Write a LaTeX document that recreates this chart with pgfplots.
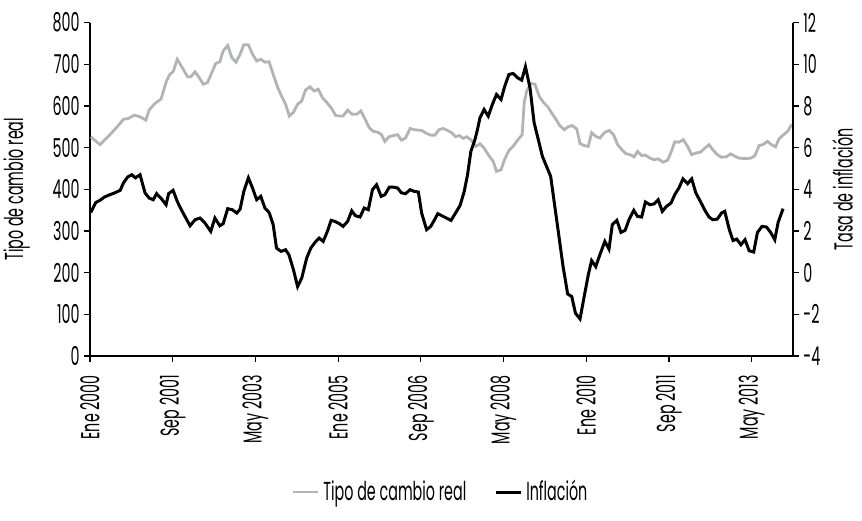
\documentclass[border=0pt]{standalone}
\usepackage{fontspec}
\setmainfont{Poppins}[FakeStretch=0.55]
\usepackage{pgfplots}
\pgfplotsset{compat=1.18}
\definecolor{tcgray}{RGB}{178,180,180}
\newcommand{\chartfont}{\fontsize{13}{15}\selectfont}
\begin{document}
\begin{tikzpicture}
\path[use as bounding box] (-45pt,-82pt) rectangle (386pt,178pt);
\begin{axis}[
  name=ax1, at={(0,0)}, anchor=south west,
  scale only axis, width=351.5pt, height=166.7pt,
  xmin=0, xmax=170, ymin=0, ymax=800,
  axis x line*=bottom, axis y line*=left,
  axis line style={line width=0.6pt, black},
  tick align=outside, major tick length=3pt,
  tick style={line width=0.6pt, black},
  xtick={0,20,...,160},
  xticklabels={Ene 2000, Sep 2001, May 2003, Ene 2005, Sep 2006, May 2008, Ene 2010, Sep 2011, May 2013},
  xticklabel style={rotate=90, anchor=east, font=\chartfont},
  xticklabel shift=3pt,
  ytick={0,100,...,800},
  yticklabel style={font=\chartfont, inner sep=2pt},
  /pgf/number format/assume math mode=true,
  ylabel={Tipo de cambio real},
  ylabel style={font=\chartfont, at={(axis description cs:-0.0754,0.5)}, anchor=south},
]
\addplot[tcgray, line width=1.4pt] coordinates {
(0.2,526) (2.4,507) (4.8,531) (6.4,548) (8.1,568) (9.3,570) (10.7,578) (12.1,574) (13.5,566) (14.3,590)
(15.5,604) (17.2,617) (18.5,660) (19.3,676) (20.1,682) (21.1,712) (22.3,692) (23.6,670) (24.4,670) (25.4,682)
(26.4,668) (27.4,652) (28.4,656) (29.8,688) (30.4,702) (31.4,706) (32.2,732) (33.3,745) (34.3,716) (35.3,705)
(36.3,724) (37.2,747) (38.3,747) (39.3,724) (40.3,708) (41.3,712) (42.3,705) (43.3,706) (44.3,676) (45.4,644)
(46.3,624) (47.3,604) (48.2,576) (49.2,585) (50.2,604) (51.2,612) (52.1,638) (53.2,646) (54.2,636) (55.2,640)
(56.2,620) (57.2,609) (58.3,596) (59.4,577) (60.4,576) (61.2,576) (62.3,590) (63.4,580) (64.5,580) (65.5,588)
(66.5,569) (67.5,548) (68.5,539) (69.6,537) (70.5,531) (71.3,515) (72.3,526) (73.3,529) (74.4,531) (75.3,518)
(76.3,523) (77.4,546) (78.4,543) (79.4,542) (80.3,541) (81.4,534) (82.4,530) (83.4,530) (84.4,543) (85.4,546)
(86.5,541) (87.4,536) (88.4,526) (89.3,529) (90.3,522) (91.1,526) (92.1,519) (93.3,503) (94.3,509) (95.3,499)
(96.3,483) (97.5,467) (98.3,443) (99.4,447) (100.3,473) (101.3,493) (102.3,503) (103.4,518) (104.5,531) (105.0,608)
(105.6,636) (106.6,654) (107.6,652) (108.6,624) (109.6,609) (110.7,598) (111.6,584) (112.6,569) (113.6,553) (114.7,543)
(115.6,550) (116.6,553) (117.7,545) (118.5,510) (119.5,505) (120.5,503) (121.3,536) (122.3,527) (123.3,523) (124.5,537)
(125.6,541) (126.6,531) (127.6,507) (128.6,495) (129.5,486) (130.6,483) (131.6,478) (132.4,491) (133.4,481) (134.3,482)
(135.4,475) (136.4,471) (137.4,473) (138.6,465) (139.7,470) (140.6,491) (141.4,514) (142.4,513) (143.5,519) (144.5,503)
(145.5,483) (146.5,487) (147.6,489) (148.7,499) (149.7,507) (150.6,495) (151.7,483) (152.7,477) (153.9,478) (154.9,485)
(156.0,479) (156.9,475) (157.9,474) (158.9,474) (159.9,475) (160.8,481) (161.8,505) (162.7,507) (163.8,515) (164.8,507)
(165.8,502) (166.6,521) (167.6,530) (168.7,539) (169.7,556)
};
\end{axis}
\begin{axis}[
  name=ax2, at={(0,0)}, anchor=south west,
  scale only axis, width=351.5pt, height=166.7pt,
  xmin=0, xmax=170, ymin=-4, ymax=12,
  axis x line=none, axis y line*=right,
  axis line style={line width=0.6pt, black},
  tick align=outside, major tick length=3pt,
  tick style={line width=0.6pt, black},
  ytick={-4,-2,...,12},
  yticklabel style={font=\chartfont, inner sep=2pt},
  /pgf/number format/assume math mode=true,
  ylabel={Tasa de inflación},
  ylabel style={font=\chartfont, at={(axis description cs:1.0456,0.5)}, anchor=north, rotate=0},
  legend style={at={(0.5,-0.408)}, anchor=center, draw=none, fill=none, font=\chartfont,
    /tikz/every even column/.append style={column sep=12pt}},
  legend columns=2,
  legend image code/.code={\draw[#1] (0pt,0pt) -- (12.5pt,0pt);},
]
\addlegendimage{tcgray, line width=1.4pt}
\addlegendentry{Tipo de cambio real}
\addplot[black, line width=1.5pt] coordinates {
(0.2,2.89) (1.4,3.37) (2.4,3.47) (3.5,3.63) (4.8,3.74) (6.0,3.83) (7.3,3.95) (8.1,4.31) (9.1,4.59) (10.1,4.70)
(11.0,4.55) (12.1,4.70) (13.3,3.83) (14.3,3.58) (15.3,3.50) (16.1,3.79) (17.3,3.54) (18.4,3.26) (19.0,3.79) (20.1,3.95)
(21.1,3.42) (22.3,2.94) (23.4,2.54) (24.2,2.25) (25.4,2.54) (26.6,2.62) (27.8,2.38) (29.2,1.98) (30.2,2.62) (31.4,2.25)
(32.2,2.35) (33.3,3.07) (34.4,3.02) (35.5,2.86) (36.3,3.05) (37.2,3.90) (38.3,4.55) (39.3,4.06) (40.3,3.50) (41.3,3.66)
(42.3,3.10) (43.3,2.89) (44.3,2.30) (45.1,1.18) (46.2,1.02) (47.3,1.10) (48.1,0.86) (49.2,0.14) (50.2,-0.67) (51.2,-0.26)
(52.4,0.70) (53.4,1.18) (54.4,1.45) (55.4,1.66) (56.4,1.50) (57.4,1.98) (58.3,2.51) (59.2,2.46) (60.3,2.35) (61.2,2.22)
(62.3,2.46) (63.3,2.97) (64.2,2.73) (65.3,2.67) (66.3,3.10) (67.3,3.02) (68.3,3.98) (69.3,4.22) (70.4,3.66) (71.3,3.74)
(72.4,4.11) (73.3,4.11) (74.4,4.06) (75.3,3.83) (76.3,3.79) (77.4,3.98) (78.4,3.90) (79.4,3.87) (80.2,2.86) (81.4,2.06)
(82.4,2.22) (83.4,2.57) (84.1,2.83) (85.4,2.70) (87.3,2.51) (88.4,2.86) (89.5,3.23) (90.5,3.90) (91.3,4.70) (92.1,5.82)
(93.1,6.39) (93.7,6.87) (94.3,7.43) (95.3,7.83) (96.3,7.51) (97.3,8.07) (98.3,8.55) (99.4,8.31) (100.3,8.95) (101.3,9.51)
(102.3,9.56) (103.4,9.35) (104.4,9.24) (105.3,9.88) (106.4,8.87) (107.4,7.19) (108.4,6.39) (109.4,5.58) (110.4,5.10) (111.4,4.62)
(112.4,3.18) (113.4,1.74) (114.4,0.29) (115.5,-1.02) (116.5,-1.15) (117.4,-1.95) (118.5,-2.22) (119.5,-1.15) (120.5,-0.10) (121.3,0.58)
(122.3,0.29) (123.3,0.86) (124.5,1.50) (125.5,1.13) (126.3,2.30) (127.4,2.51) (128.4,1.93) (129.4,2.03) (130.4,2.57) (131.5,2.99)
(132.4,2.70) (133.4,2.67) (134.3,3.39) (135.4,3.26) (136.4,3.30) (137.4,3.50) (138.4,2.94) (139.4,3.18) (140.5,3.34) (141.4,3.74)
(142.4,4.06) (143.4,4.50) (144.5,4.27) (145.5,4.50) (146.5,3.83) (147.6,3.42) (148.7,2.99) (149.7,2.67) (150.6,2.54) (151.7,2.57)
(152.7,2.86) (153.5,2.94) (154.6,2.06) (155.5,1.54) (156.4,1.61) (157.4,1.34) (158.4,1.58) (159.4,1.05) (160.5,0.99) (161.4,1.93)
(162.5,2.22) (163.6,2.19) (164.6,1.93) (165.6,1.58) (166.4,2.41) (167.6,3.07)
};
\addlegendentry{Inflación}
\end{axis}
\end{tikzpicture}
\end{document}
